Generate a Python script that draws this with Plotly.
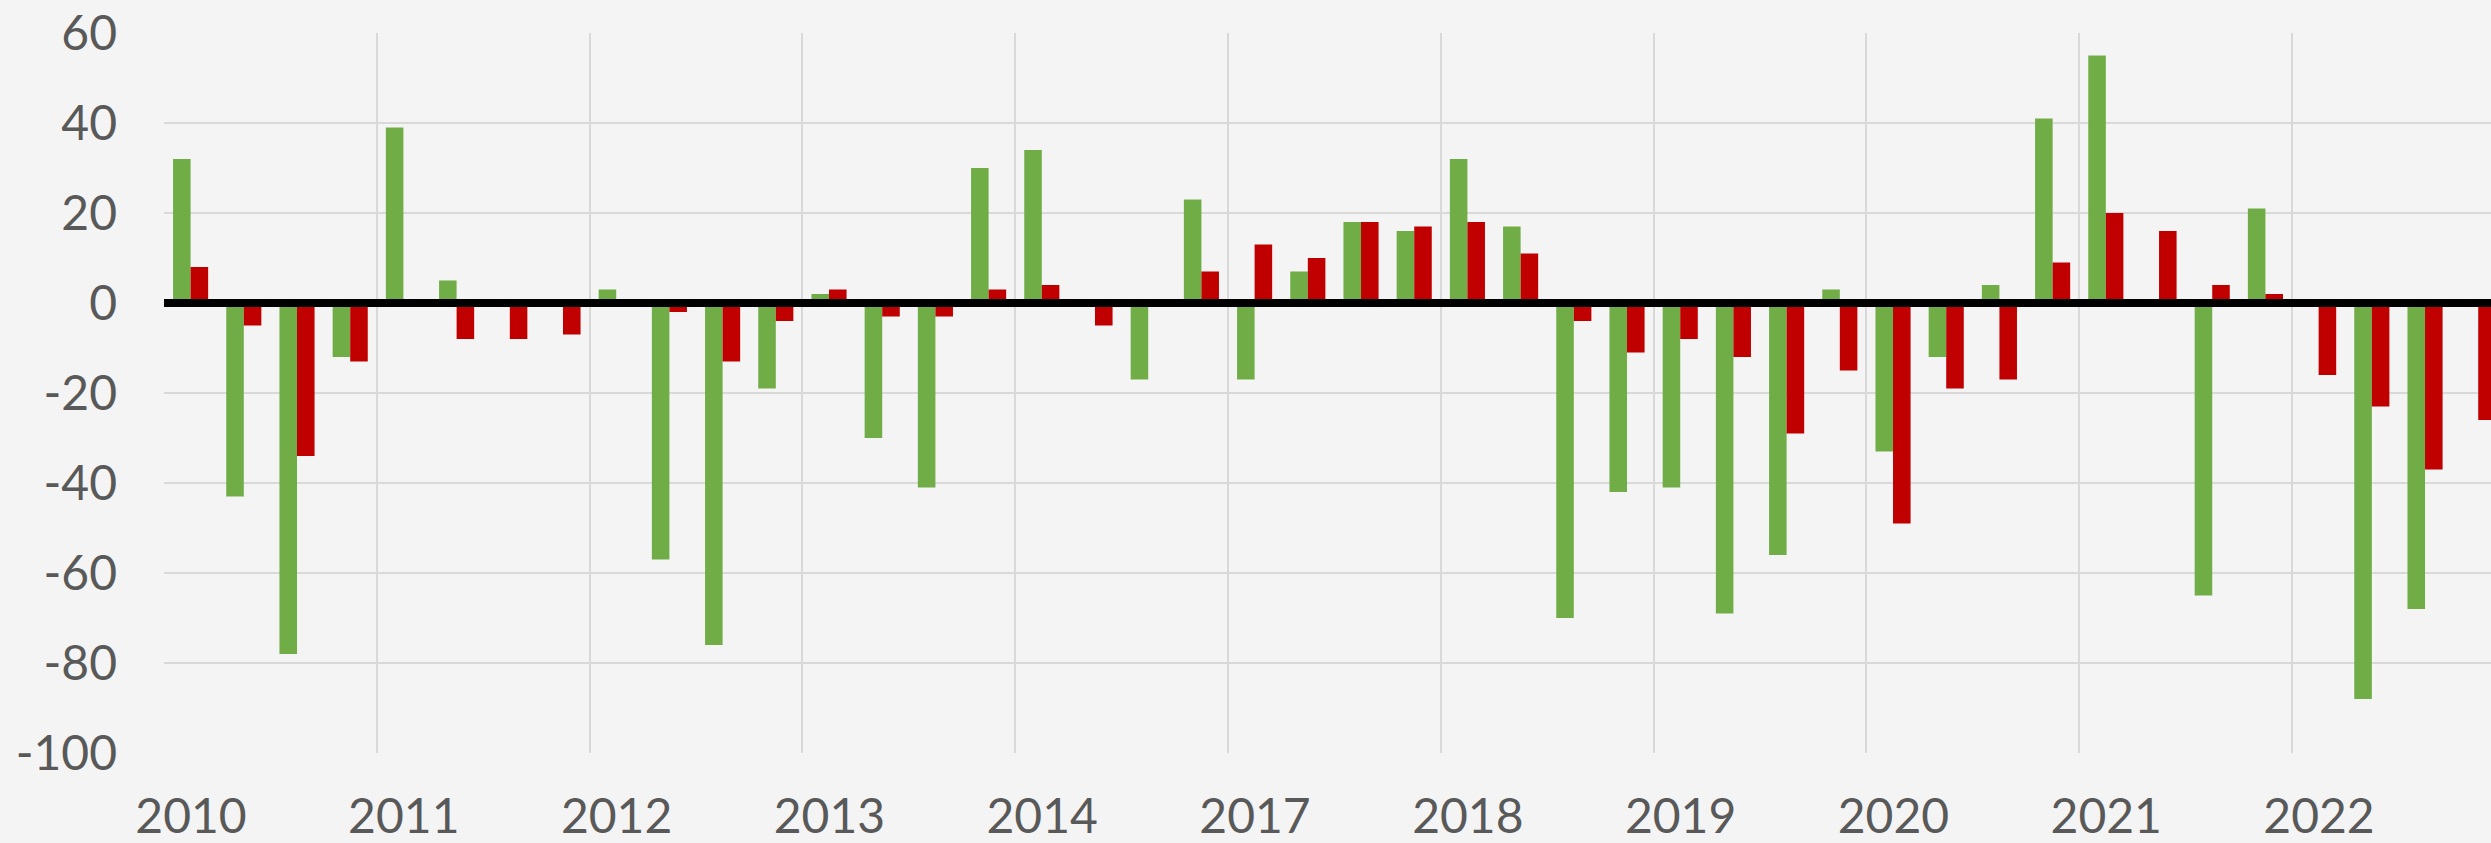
import plotly.graph_objects as go

# Quarterly values (4 quarters per year label)
year_labels = ["2010", "2011", "2012", "2013", "2014", "2017", "2018", "2019", "2020", "2021", "2022"]
green_vals = [32, -43, -78, -12,
              39, 5, 0, 0,
              3, -57, -76, -19,
              2, -30, -41, 30,
              34, -0.3, -17, 23,
              -17, 7, 18, 16,
              32, 17, -70, -42,
              -41, -69, -56, 3,
              -33, -12, 4, 41,
              55, 0.3, -65, 21,
              -0.3, -88, -68, 0]
red_vals = [8, -5, -34, -13,
            0.5, -8, -8, -7,
            0.5, -2, -13, -4,
            3, -3, -3, 3,
            4, -5, -0.3, 7,
            13, 10, 18, 17,
            18, 11, -4, -11,
            -8, -12, -29, -15,
            -49, -19, -17, 9,
            20, 16, 4, 2,
            -16, -23, -37, -26]
quarters = list(range(len(green_vals)))
y_ticks = [-100, -80, -60, -40, -20, 0, 20, 40, 60]
y_tick_text = [str(v) for v in y_ticks]

GREEN = "#70AD47"
RED = "#C00000"
BG = "#F4F4F4"
GRID = "#D9D9D9"
TXT = "#595959"

fig = go.Figure()
fig.add_trace(go.Bar(x=quarters, y=green_vals, marker=dict(color=GREEN, line=dict(width=0)), name="A"))
fig.add_trace(go.Bar(x=quarters, y=red_vals, marker=dict(color=RED, line=dict(width=0)), name="B"))

year_pos = [4 * i - 0.5 for i in range(len(year_labels))]

fig.update_layout(
    width=2491, height=843,
    margin=dict(l=164, r=0, t=33, b=90, pad=0, autoexpand=False),
    paper_bgcolor=BG, plot_bgcolor=BG,
    barmode="group", bargap=0.34, bargroupgap=0,
    showlegend=False,
    font=dict(family="Lato, Open Sans, sans-serif", size=48, color=TXT),
)
fig.update_xaxes(
    range=[-0.5, 43.24], automargin=False,
    tickmode="array", tickvals=year_pos, ticktext=year_labels,
    ticklabelshift=27, ticklabelstandoff=31,
    showgrid=True, gridcolor=GRID, gridwidth=2,
    zeroline=False, showline=False, ticks="",
)
fig.update_yaxes(
    range=[-100, 60], automargin=False,
    tickmode="array", tickvals=y_ticks, ticktext=y_tick_text,
    ticklabelstandoff=46,
    showgrid=True, gridcolor=GRID, gridwidth=2,
    zeroline=False, showline=False, ticks="",
)
fig.add_hline(y=0, line_color="black", line_width=8, layer="above")

fig.write_html(
    "out.html",
    config={"displayModeBar": False},
    post_script="document.body.style.margin='0';document.body.style.overflow='hidden';document.body.style.background='" + BG + "';",
)
